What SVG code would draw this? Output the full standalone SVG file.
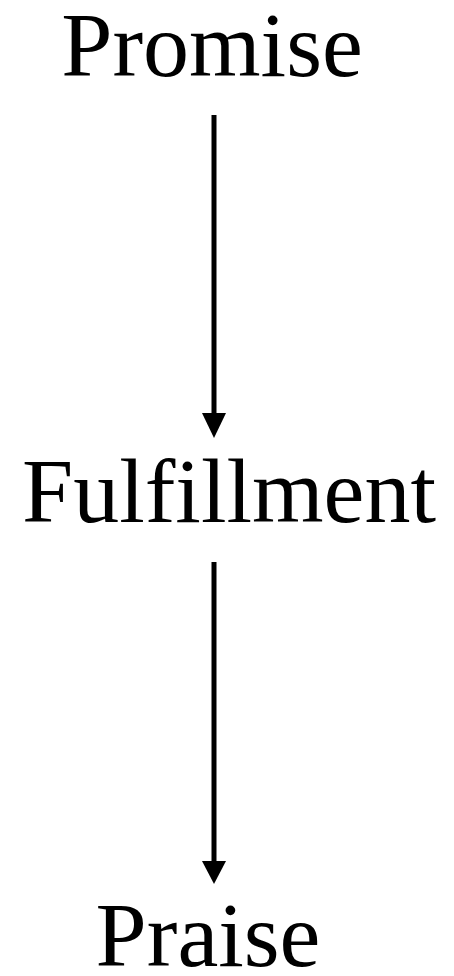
<svg xmlns="http://www.w3.org/2000/svg" width="454" height="976" viewBox="0 0 454 976">
<style>
text{font-family:"Liberation Serif","Times New Roman",serif;font-size:92px;fill:#000;text-anchor:middle}
.shaft{stroke:#000;stroke-width:5;fill:none}
.head{fill:#000}
</style>
<rect width="454" height="976" fill="#fff"/>
<g id="promise"><text x="212" y="76">Promise</text></g>
<g id="fulfillment"><text x="229" y="522">Fulfillment</text></g>
<g id="praise"><text x="208" y="966">Praise</text></g>
<g id="connectors">
<line class="shaft" x1="214" y1="115" x2="214" y2="415"/>
<polygon class="head" points="202,413 226,413 214,438"/>
<line class="shaft" x1="214" y1="562" x2="214" y2="863"/>
<polygon class="head" points="202,861 226,861 214,884"/>
</g>
</svg>
